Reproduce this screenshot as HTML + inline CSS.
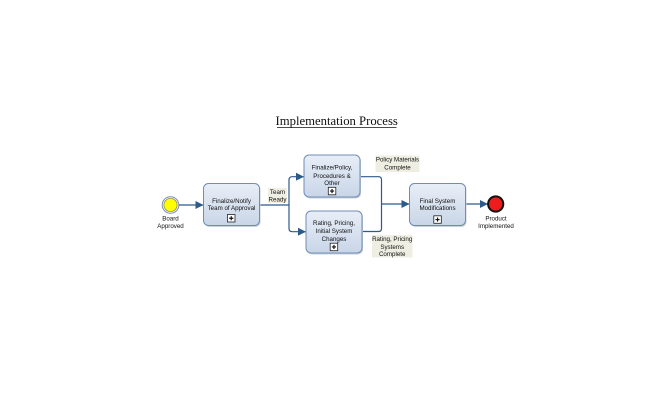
<!DOCTYPE html>
<html>
<head>
<meta charset="utf-8">
<style>
html,body{margin:0;padding:0;background:#fff;}
svg{display:block;}
.t{font-family:"Liberation Sans",Arial,sans-serif;font-size:6.2px;fill:#111;text-anchor:middle;}
.lbl{fill:#efeee3;}
.ln{fill:none;stroke:#2c5a8c;stroke-width:1.2;}
.box{fill:url(#g);stroke:#6f8db6;stroke-width:1;}
.sh{fill:#c9cfd8;}
.mk{fill:#fff;stroke:#222;stroke-width:0.8;}
</style>
</head>
<body>
<svg width="672" height="408" viewBox="0 0 672 408" xmlns="http://www.w3.org/2000/svg">
<defs>
<linearGradient id="g" x1="0" y1="0" x2="0" y2="1">
<stop offset="0" stop-color="#e8eef7"/>
<stop offset="1" stop-color="#c9d6e8"/>
</linearGradient>
<marker id="ah" markerWidth="8" markerHeight="8" refX="7.5" refY="4" orient="auto" markerUnits="userSpaceOnUse">
<path d="M0,0 L8,4 L0,8 Z" fill="#2c5a8c"/>
</marker>
</defs>

<!-- Title -->
<text x="336.7" y="125" font-family="'Liberation Serif','Times New Roman',serif" font-size="12.7" text-anchor="middle" fill="#111">Implementation Process</text>
<line x1="277" y1="127.5" x2="396.5" y2="127.5" stroke="#111" stroke-width="0.8"/>

<!-- Start event -->
<circle cx="170.5" cy="205" r="8.3" fill="#fff" stroke="#7b8fae" stroke-width="1"/>
<circle cx="170.5" cy="205" r="6.6" fill="#ffff00" stroke="#8c8c60" stroke-width="0.8"/>
<text class="t" x="170.5" y="220.5">Board</text>
<text class="t" x="170.5" y="228">Approved</text>

<!-- connectors -->
<line class="ln" x1="179" y1="205" x2="203" y2="205" marker-end="url(#ah)"/>
<path class="ln" d="M259.5,205 H289"/>
<path class="ln" d="M289,205 V180 Q289,176.7 292.3,176.7 H303.5" marker-end="url(#ah)"/>
<path class="ln" d="M289,205 V228.5 Q289,231.7 292.3,231.7 H305.5" marker-end="url(#ah)"/>
<path class="ln" d="M360.5,176.7 H378.5 Q381.5,176.7 381.5,179.7 V204"/>
<path class="ln" d="M362,231.5 H378.5 Q381.5,231.5 381.5,228.5 V204"/>
<line class="ln" x1="381.5" y1="204" x2="409" y2="204" marker-end="url(#ah)"/>
<line class="ln" x1="466" y1="204" x2="487.5" y2="204" marker-end="url(#ah)"/>

<!-- Box 1 -->
<rect class="sh" x="204.5" y="184.5" width="56" height="42.5" rx="5"/>
<rect class="box" x="203.5" y="183.5" width="56" height="42" rx="5"/>
<text class="t" x="231.5" y="202.8">Finalize/Notify</text>
<text class="t" x="231.5" y="210">Team of Approval</text>
<rect class="mk" x="227.5" y="214.5" width="7.5" height="7.5"/>
<path d="M229.2,218.25 H233.3 M231.25,216.2 V220.3" stroke="#111" stroke-width="1.2"/>

<!-- Box 2 -->
<rect class="sh" x="305" y="156" width="56" height="42.5" rx="5"/>
<rect class="box" x="304" y="155" width="56" height="42" rx="5"/>
<text class="t" x="332" y="169.5">Finalize/Policy,</text>
<text class="t" x="332" y="177.8">Procedures &amp;</text>
<text class="t" x="332" y="184.8">Other</text>
<rect class="mk" x="328.3" y="187.3" width="7.5" height="7.5"/>
<path d="M330,191.05 H334.1 M332.05,189 V193.1" stroke="#111" stroke-width="1.2"/>

<!-- Box 3 -->
<rect class="sh" x="307" y="212" width="56" height="42.5" rx="5"/>
<rect class="box" x="306" y="211" width="56" height="42" rx="5"/>
<text class="t" x="334" y="224.8">Rating, Pricing,</text>
<text class="t" x="334" y="232.8">Initial System</text>
<text class="t" x="334" y="241">Changes</text>
<rect class="mk" x="330.2" y="243.2" width="7.5" height="7.5"/>
<path d="M331.9,246.95 H336 M333.95,244.9 V249" stroke="#111" stroke-width="1.2"/>

<!-- Box 4 -->
<rect class="sh" x="410.5" y="184.5" width="56" height="42.5" rx="5"/>
<rect class="box" x="409.5" y="183.5" width="56" height="42" rx="5"/>
<text class="t" x="437.5" y="202.8">Final System</text>
<text class="t" x="437.5" y="209.8">Modifications</text>
<rect class="mk" x="433.8" y="215.8" width="7.5" height="7.5"/>
<path d="M435.5,219.55 H439.6 M437.55,217.5 V221.6" stroke="#111" stroke-width="1.2"/>

<!-- End event -->
<circle cx="495.7" cy="204" r="7.6" fill="#ee1c1c" stroke="#111" stroke-width="2"/>
<text class="t" x="496" y="220.5">Product</text>
<text class="t" x="496" y="228">Implemented</text>

<!-- Labels -->
<rect class="lbl" x="268" y="188" width="19" height="15"/>
<text class="t" x="277.5" y="193.8">Team</text>
<text class="t" x="277.5" y="201.3">Ready</text>

<rect class="lbl" x="375.5" y="155.5" width="44" height="16.5"/>
<text class="t" x="397.5" y="161.5">Policy Materials</text>
<text class="t" x="397.5" y="169.3">Complete</text>

<rect class="lbl" x="372" y="235" width="40.5" height="22.5"/>
<text class="t" x="392.2" y="241.2">Rating, Pricing</text>
<text class="t" x="392.2" y="248.8">Systems</text>
<text class="t" x="392.2" y="256.2">Complete</text>
</svg>
</body>
</html>
